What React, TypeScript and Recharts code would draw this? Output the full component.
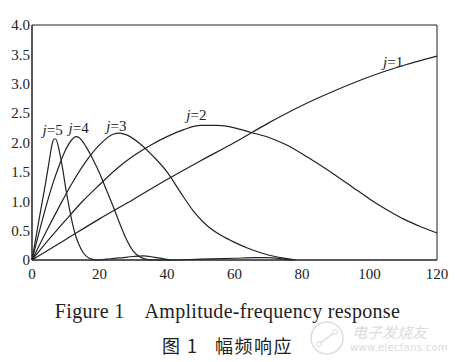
import React from 'react';
import {
  LineChart,
  Line,
  XAxis,
  YAxis,
  ReferenceArea,
  ReferenceDot,
} from 'recharts';

// frequency points and amplitude, one pair of arrays per scale j
const J1_X = [0, 10, 20, 30, 40, 50, 60, 70, 80, 90, 100, 110, 120];
const J1_Y = [0, 0.35, 0.7, 1.03, 1.37, 1.69, 2.0, 2.33, 2.63, 2.89, 3.12, 3.31, 3.47];

const J2_X = [0, 5, 10, 15, 20, 25, 30, 35, 40, 45, 50, 55, 60, 65, 70, 75, 80, 85, 90, 95, 100, 105, 110, 115, 120];
const J2_Y = [0, 0.35, 0.68, 1.0, 1.28, 1.55, 1.77, 1.95, 2.1, 2.22, 2.29, 2.29, 2.25, 2.17, 2.09, 1.97, 1.81, 1.63, 1.44, 1.24, 1.04, 0.86, 0.7, 0.57, 0.46];

const J3_X = [0, 4, 8, 12, 16, 20, 24, 26, 28, 32, 36, 40, 44, 48, 52, 56, 60, 64, 68, 72, 76, 78];
const J3_Y = [0, 0.46, 0.9, 1.32, 1.68, 1.96, 2.14, 2.16, 2.13, 1.98, 1.76, 1.5, 1.15, 0.82, 0.58, 0.42, 0.3, 0.2, 0.12, 0.06, 0.02, 0];

const J4_X = [0, 2, 4, 6, 8, 10, 12, 13, 14, 16, 18, 20, 22, 24, 26, 28, 30, 32, 34, 36, 40, 50, 60, 66, 70, 74, 77];
const J4_Y = [0, 0.45, 0.88, 1.27, 1.6, 1.88, 2.06, 2.1, 2.08, 1.93, 1.72, 1.48, 1.2, 0.92, 0.62, 0.35, 0.15, 0.05, 0.01, 0, 0, 0.015, 0.03, 0.04, 0.04, 0.02, 0];

const J5_X = [0, 1, 2, 3, 4, 5, 6, 6.5, 7, 8, 9, 10, 11, 12, 13, 14, 15, 16, 17, 18, 19, 22, 26, 30, 33, 36, 39, 41];
const J5_Y = [0, 0.33, 0.66, 0.98, 1.3, 1.65, 1.98, 2.06, 2.06, 1.88, 1.58, 1.22, 0.9, 0.62, 0.4, 0.25, 0.14, 0.07, 0.03, 0.01, 0, 0.015, 0.035, 0.06, 0.07, 0.05, 0.02, 0];

const X_TICKS = [0, 20, 40, 60, 80, 100, 120];
const Y_TICKS = [0, 0.5, 1, 1.5, 2, 2.5, 3, 3.5, 4];

const SERIES = [
  { name: 'j=1', xs: J1_X, ys: J1_Y },
  { name: 'j=2', xs: J2_X, ys: J2_Y },
  { name: 'j=3', xs: J3_X, ys: J3_Y },
  { name: 'j=4', xs: J4_X, ys: J4_Y },
  { name: 'j=5', xs: J5_X, ys: J5_Y },
];

// where each "j=" annotation sits, in data units
const LABELS = [
  { j: '1', x: 107, y: 3.37 },
  { j: '2', x: 48.7, y: 2.47 },
  { j: '3', x: 25, y: 2.28 },
  { j: '4', x: 13.8, y: 2.25 },
  { j: '5', x: 6.1, y: 2.21 },
];

const SERIF = '"Liberation Serif", "DejaVu Serif", serif';
const INK = '#222';
const MARK = '#dcdcdc';

function JLabel({ viewBox, j }: any) {
  if (!viewBox) return null;
  const cx = viewBox.x + (viewBox.width || 0) / 2;
  const cy = viewBox.y + (viewBox.height || 0) / 2;
  return (
    <text x={cx} y={cy} dy="0.35em" textAnchor="middle" fontFamily={SERIF} fontSize={15} fill={INK}>
      <tspan fontStyle="italic">j</tspan>=<tspan>{j}</tspan>
    </text>
  );
}

export default function App() {
  const toRows = (xs: number[], ys: number[]) => xs.map((x, i) => ({ x, y: ys[i] }));

  return (
    <div style={{ position: 'absolute', left: 0, top: 0, width: 455, height: 362, background: '#fff', overflow: 'hidden' }}>
      <LineChart width={455} height={290} margin={{ top: 25, right: 18, bottom: 0, left: 0 }}>
        <XAxis
          type="number"
          dataKey="x"
          domain={[0, 120]}
          ticks={X_TICKS}
          tickLine={false}
          axisLine={{ stroke: INK }}
          height={30}
          tick={{ fontFamily: SERIF, fontSize: 15, fill: INK }}
          allowDuplicatedCategory={false}
        />
        <YAxis
          type="number"
          domain={[0, 4]}
          ticks={Y_TICKS}
          tickLine={false}
          tickSize={0}
          tickMargin={2}
          width={32}
          axisLine={{ stroke: INK }}
          tick={{ fontFamily: SERIF, fontSize: 15, fill: INK }}
          tickFormatter={(v: number) => (v === 0 ? '0' : v.toFixed(1))}
        />
        <ReferenceArea x1={0} x2={120} y1={0} y2={4} fill="none" stroke={INK} strokeWidth={1} />
        {SERIES.map((s) => (
          <Line
            key={s.name}
            data={toRows(s.xs, s.ys)}
            dataKey="y"
            type="monotone"
            stroke={INK}
            strokeWidth={1.2}
            dot={false}
            isAnimationActive={false}
          />
        ))}
        {LABELS.map((l) => (
          <ReferenceDot
            key={l.j}
            x={l.x}
            y={l.y}
            r={0}
            fill="none"
            stroke="none"
            label={(p: any) => <JLabel {...p} j={l.j} />}
          />
        ))}
      </LineChart>

      {/* caption */}
      <div
        style={{
          position: 'absolute',
          left: 0,
          top: 300,
          width: 455,
          textAlign: 'center',
          fontFamily: SERIF,
          fontSize: 20,
          lineHeight: '22px',
          letterSpacing: 0.3,
          color: INK,
          whiteSpace: 'pre',
        }}
      >
        {'Figure 1    Amplitude-frequency response'}
      </div>
      <div
        style={{
          position: 'absolute',
          left: 162,
          top: 333,
          fontFamily: '"Noto Sans CJK SC", sans-serif',
          fontSize: 18,
          letterSpacing: 1.5,
          lineHeight: '24px',
          color: INK,
          whiteSpace: 'pre',
        }}
      >
        {'图 1   幅频响应'}
      </div>

      {/* faint site watermark */}
      <svg style={{ position: 'absolute', left: 305, top: 320 }} width={45} height={36}>
        <circle cx={22} cy={18} r={16} fill="none" stroke={MARK} strokeWidth={1.5} />
        <line x1={14} y1={24} x2={30} y2={12} stroke={MARK} strokeWidth={1.5} />
        <circle cx={14} cy={24} r={2.5} fill="#fff" stroke={MARK} />
        <circle cx={30} cy={12} r={2.5} fill="#fff" stroke={MARK} />
      </svg>
      <div
        style={{
          position: 'absolute',
          left: 352,
          top: 324,
          fontFamily: '"Noto Sans CJK SC", sans-serif',
          fontSize: 15,
          lineHeight: '16px',
          color: MARK,
          fontStyle: 'italic',
          whiteSpace: 'nowrap',
        }}
      >
        电子发烧友
      </div>
      <div
        style={{
          position: 'absolute',
          left: 350,
          top: 342,
          fontFamily: '"DejaVu Sans", sans-serif',
          fontSize: 10,
          letterSpacing: 0.3,
          lineHeight: '12px',
          color: MARK,
          whiteSpace: 'nowrap',
        }}
      >
        www.elecfans.com
      </div>
    </div>
  );
}
